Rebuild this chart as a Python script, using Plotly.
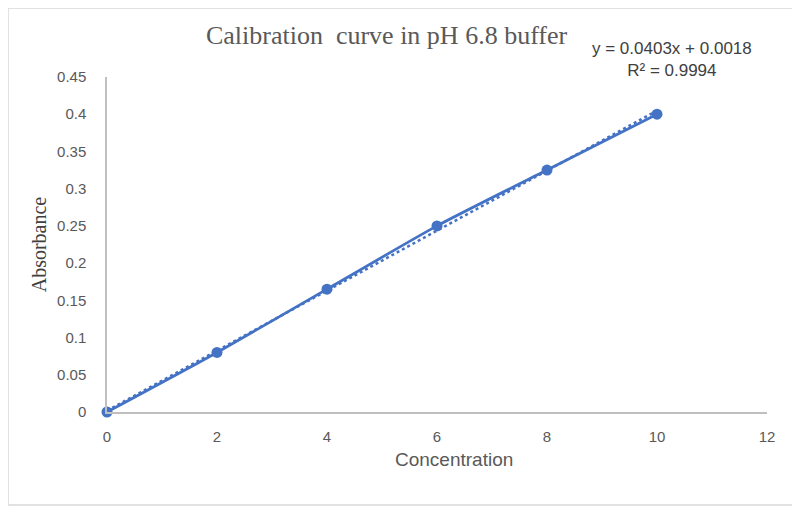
import plotly.graph_objects as go

concentration = [0, 2, 4, 6, 8, 10]
absorbance = [0, 0.08, 0.165, 0.25, 0.325, 0.4]
trend_slope = 0.0403
trend_intercept = 0.0018
y_ticks = [0, 0.05, 0.1, 0.15, 0.2, 0.25, 0.3, 0.35, 0.4, 0.45]
y_tick_labels = ["0", "0.05", "0.1", "0.15", "0.2", "0.25", "0.3", "0.35", "0.4", "0.45"]
x_ticks = [0, 2, 4, 6, 8, 10, 12]

blue = "#4472C4"
grey_txt = "#595959"

trend_x = [concentration[0], concentration[-1]]
trend_y = [trend_slope * x + trend_intercept for x in trend_x]

fig = go.Figure()
fig.add_trace(go.Scatter(
    x=trend_x, y=trend_y, mode="lines",
    line=dict(color=blue, width=2.5, dash="dot"),
    hoverinfo="skip", showlegend=False,
))
fig.add_trace(go.Scatter(
    x=concentration, y=absorbance, mode="lines+markers",
    line=dict(color=blue, width=2.75, shape="spline", smoothing=0.6),
    marker=dict(color=blue, size=11),
    showlegend=False, cliponaxis=False,
))

# page body adds an 8px offset, so the figure is 8px smaller than the window
fig.update_layout(
    width=792, height=498,
    margin=dict(l=99, r=33, t=69, b=94),
    paper_bgcolor="white", plot_bgcolor="white",
    title=dict(
        text="Calibration  curve in pH 6.8 buffer",
        font=dict(family="Liberation Serif", size=26, color=grey_txt),
        x=0.478, xanchor="center", y=0.946, yanchor="middle",
    ),
    xaxis=dict(
        range=[0, 12], tickvals=x_ticks, showgrid=False, zeroline=False,
        showline=True, linecolor="#BFBFBF", linewidth=2,
        ticks="", ticklabelstandoff=10,
        tickfont=dict(family="Liberation Sans", size=15, color=grey_txt),
    ),
    yaxis=dict(
        range=[0, 0.45], tickvals=y_ticks, ticktext=y_tick_labels,
        showgrid=False, zeroline=False,
        showline=True, linecolor="#BFBFBF", linewidth=1.5,
        ticks="", ticklabelstandoff=16,
        tickfont=dict(family="Liberation Sans", size=15, color=grey_txt),
        title=dict(text="Absorbance", standoff=5,
                   font=dict(family="Liberation Serif", size=20, color="#404040")),
    ),
    annotations=[
        dict(text="Concentration", xref="paper", yref="paper",
             x=0.5258, y=-0.143, xanchor="center", yanchor="middle", showarrow=False,
             font=dict(family="Liberation Sans", size=19, color=grey_txt)),
        dict(text="y = 0.0403x + 0.0018<br>R² = 0.9994", xref="paper", yref="paper",
             x=0.856, y=1.051, xanchor="center", yanchor="middle", showarrow=False,
             align="center",
             font=dict(family="Liberation Sans", size=17, color="#404040")),
    ],
    shapes=[
        dict(type="rect", xref="paper", yref="paper",
             x0=-99 / 660, x1=(660 + 33 - 1) / 660,
             y0=-(94 - 1) / 335, y1=(335 + 69) / 335,
             line=dict(color="#D9D9D9", width=1.5), layer="below"),
    ],
)

fig.write_html("out.html")
